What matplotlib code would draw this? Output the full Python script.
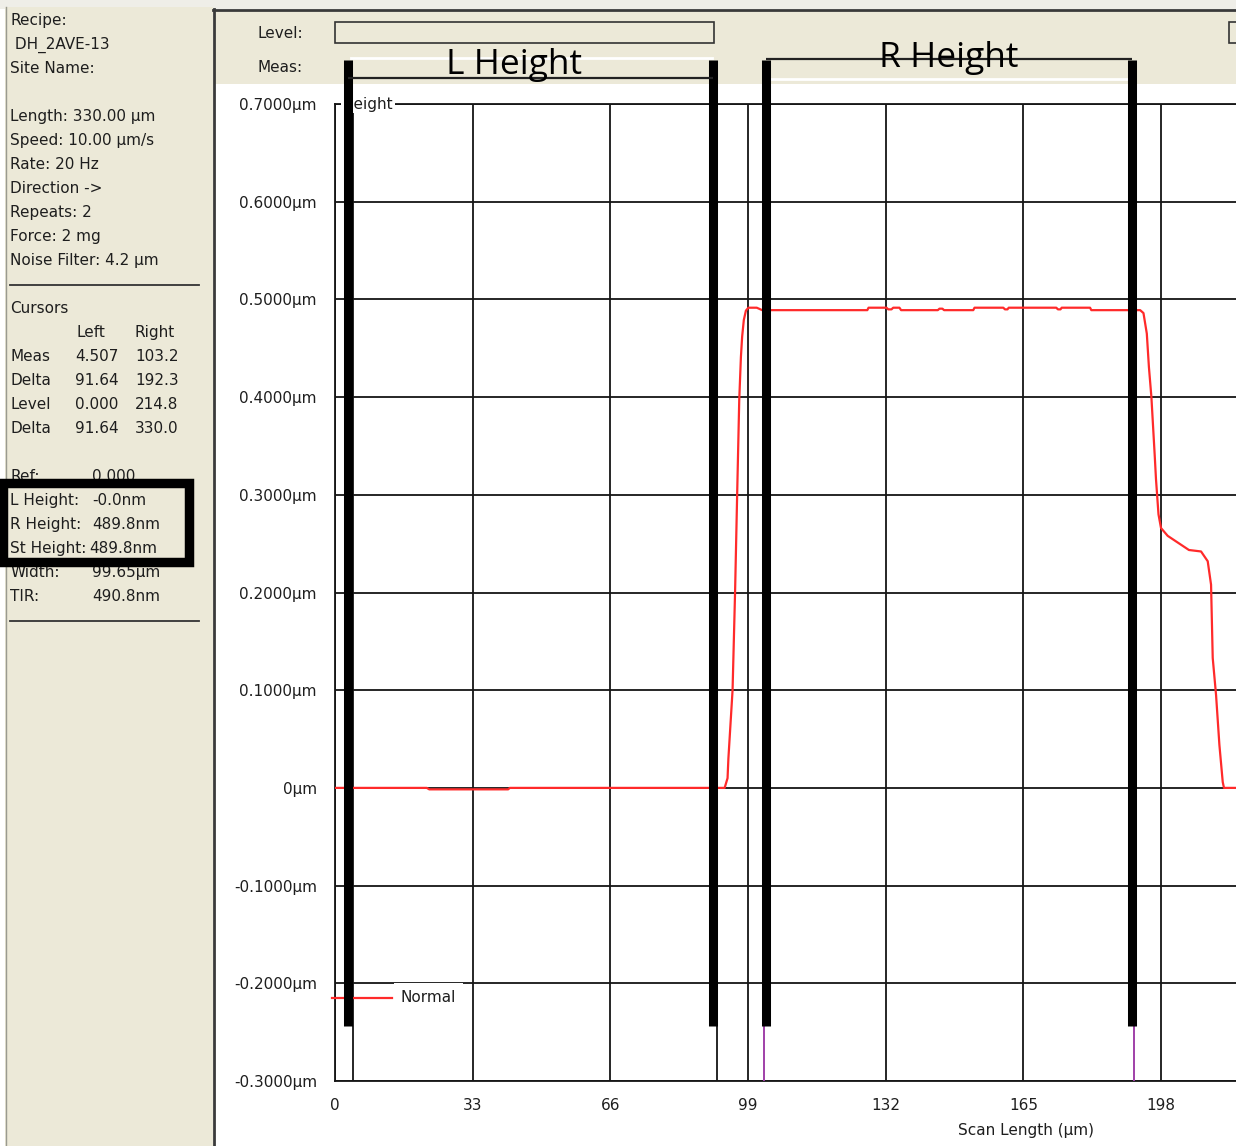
import matplotlib
matplotlib.use("Agg")
import matplotlib.pyplot as plt
from matplotlib.patches import Rectangle
from matplotlib.lines import Line2D

W, H = 1236, 1146
BEIGE = "#ece9d8"
INK = "#1e1e1e"

# step height profile, x in µm, height in µm
scan_x = [0.0, 22.0, 22.6, 41.5, 41.9,
          93.4, 94.1, 94.3, 95.3, 95.9, 96.4, 96.9, 97.3, 97.6, 98.0, 98.5, 99.1,
          101.1, 102.4, 127.6, 127.9, 132.2, 132.6, 133.4, 133.8, 135.3, 135.7,
          144.5, 144.9, 145.6, 146.0, 153.0, 153.3, 160.2, 160.6, 161.2, 161.5,
          172.9, 173.3, 173.9, 174.2, 181.0, 181.3,
          193.0, 193.8, 194.6, 195.1, 195.7, 196.1, 196.5, 196.8, 197.4, 198.0,
          199.6, 204.7, 207.6, 209.2, 210.0, 210.4, 211.2, 212.0, 212.8, 213.1, 215.9]
scan_h = [0.0, 0.0, -0.0015, -0.0015, 0.0,
          0.0, 0.01, 0.03, 0.10, 0.20, 0.30, 0.397, 0.441, 0.462, 0.479, 0.4885, 0.4915,
          0.4915, 0.489, 0.489, 0.4915, 0.4915, 0.4898, 0.4898, 0.4915, 0.4915, 0.489,
          0.489, 0.4905, 0.4905, 0.489, 0.489, 0.4915, 0.4915, 0.4898, 0.4898, 0.4915,
          0.4915, 0.4898, 0.4898, 0.4915, 0.4915, 0.489,
          0.489, 0.486, 0.465, 0.431, 0.400, 0.37, 0.34, 0.316, 0.28, 0.266,
          0.258, 0.2435, 0.242, 0.232, 0.208, 0.133, 0.095, 0.044, 0.006, 0.0, 0.0]

y_ticks = [0.7, 0.6, 0.5, 0.4, 0.3, 0.2, 0.1, 0.0, -0.1, -0.2, -0.3]
y_labels = ["0.7000µm", "0.6000µm", "0.5000µm", "0.4000µm", "0.3000µm",
            "0.2000µm", "0.1000µm", "0µm", "-0.1000µm", "-0.2000µm", "-0.3000µm"]
x_ticks = [0, 33, 66, 99, 132, 165, 198]

cursor_black = [4.2, 91.6]
cursor_purple = [102.8, 191.6]
bar_x = [3.1, 90.6, 103.2, 191.1]

info_top = ["Recipe:", " DH_2AVE-13", "Site Name:", "",
            "Length: 330.00 µm", "Speed: 10.00 µm/s", "Rate: 20 Hz",
            "Direction ->", "Repeats: 2", "Force: 2 mg", "Noise Filter: 4.2 µm"]
cursor_cols = ["Left", "Right"]
cursor_rows = [("Meas", "4.507", "103.2"), ("Delta", "91.64", "192.3"),
               ("Level", "0.000", "214.8"), ("Delta", "91.64", "330.0")]
result_rows = [("Ref:", "0.000"), ("L Height:", "-0.0nm"), ("R Height:", "489.8nm"),
               ("St Height:", "489.8nm"), ("Width:", "99.65µm"), ("TIR:", "490.8nm")]


def fx(px):
    return px / W


def fy(py):
    return 1 - py / H


def frect(x0, y0, x1, y1, **kw):
    return Rectangle((fx(x0), fy(y1)), (x1 - x0) / W, (y1 - y0) / H,
                     transform=fig.transFigure, **kw)


def fline(x0, y0, x1, y1, **kw):
    return Line2D([fx(x0), fx(x1)], [fy(y0), fy(y1)], transform=fig.transFigure, **kw)


plt.rcParams["font.family"] = "DejaVu Sans"
fs = 11

fig = plt.figure(figsize=(W / 100, H / 100), dpi=100, facecolor="white")

# window chrome
fig.patches.append(frect(0, 0, W, 9, facecolor="#efeee8", edgecolor="none", zorder=-2))
fig.patches.append(frect(5, 7, 213, H + 2, facecolor=BEIGE, edgecolor="none", zorder=-2))
fig.patches.append(frect(215, 10, W, 84, facecolor=BEIGE, edgecolor="none", zorder=-2))
fig.lines.append(fline(5.5, 7, 5.5, H, color="#9a9a90", lw=1, zorder=-1))
fig.lines.append(fline(214, 9, 214, H, color="#3a3a3a", lw=2, zorder=-1))
fig.lines.append(fline(213, 9.5, W, 9.5, color="#3a3a3a", lw=2, zorder=-1))
fig.patches.append(frect(335, 22, 714, 43, facecolor=BEIGE, edgecolor="#333333", lw=1.2, zorder=-1))
fig.patches.append(frect(1229, 22, W + 5, 43, facecolor=BEIGE, edgecolor="#333333", lw=1.2, zorder=-1))
fig.lines.append(fline(351, 58, 712, 58, color="white", lw=2, zorder=-1))
fig.lines.append(fline(769, 79, 1128, 79, color="white", lw=2, zorder=-1))
fig.text(fx(303), fy(33), "Level:", ha="right", va="center", fontsize=fs, color=INK)
fig.text(fx(303), fy(68), "Meas:", ha="right", va="center", fontsize=fs, color=INK)

# left info panel
for i, s in enumerate(info_top):
    fig.text(fx(10.5), fy(20.7 + 24 * i), s, ha="left", va="center", fontsize=fs, color=INK)
fig.lines.append(fline(10, 284.5, 199, 284.5, color="#333333", lw=1.3))
fig.text(fx(10.5), fy(308.7), "Cursors", ha="left", va="center", fontsize=fs, color=INK)
fig.text(fx(76), fy(332.7), cursor_cols[0], ha="left", va="center", fontsize=fs, color=INK)
fig.text(fx(135), fy(332.7), cursor_cols[1], ha="left", va="center", fontsize=fs, color=INK)
for i, (name, left, right) in enumerate(cursor_rows):
    yy = fy(356.7 + 24 * i)
    fig.text(fx(10.5), yy, name, ha="left", va="center", fontsize=fs, color=INK)
    fig.text(fx(75), yy, left, ha="left", va="center", fontsize=fs, color=INK)
    fig.text(fx(135), yy, right, ha="left", va="center", fontsize=fs, color=INK)
for i, (name, val) in enumerate(result_rows):
    yy = fy(476.7 + 24 * i)
    fig.text(fx(10.5), yy, name, ha="left", va="center", fontsize=fs, color=INK)
    fig.text(fx(89 if name.startswith("St") else 92), yy, val, ha="left", va="center",
             fontsize=fs, color=INK)
fig.lines.append(fline(10, 620.5, 199, 620.5, color="#333333", lw=1.3))
fig.patches.append(frect(2.5, 483, 189, 561.5, facecolor="none", edgecolor="black",
                         lw=6.8, joinstyle="miter", zorder=5))

# profile plot
ax = fig.add_axes([fx(335), fy(1081), (W - 335) / W, (1081 - 104) / H])
ax.set_xlim(0, (W - 334.5) / 4.174)
ax.set_ylim(-0.3, 0.7)
ax.set_yticks(y_ticks, y_labels)
ax.set_xticks(x_ticks, [str(t) for t in x_ticks])
ax.tick_params(length=0, labelsize=fs, labelcolor=INK)
ax.tick_params(axis="y", pad=13)
ax.tick_params(axis="x", pad=12)
ax.grid(True, color="#151515", lw=1.3)
ax.set_axisbelow(True)
for side in ["left", "top", "bottom"]:
    ax.spines[side].set_color("#151515")
    ax.spines[side].set_linewidth(1.3)
ax.spines["right"].set_visible(False)

ax.text(1.8, 0.7, "Height", ha="left", va="center", fontsize=fs, color=INK, zorder=4,
        bbox=dict(boxstyle="square,pad=0.1", facecolor="white", edgecolor="none"))

ax.vlines(cursor_black, -0.3, 0.7, color="#151515", lw=1.3, zorder=2.6)
ax.vlines(cursor_purple, -0.3, 0.722, color="#a040a8", lw=1.4, zorder=2.6, clip_on=False)

ax.plot(scan_x, scan_h, color="#ff2a2a", lw=1.6, zorder=3)

# legend entry
ax.plot([-0.7, 13.6], [-0.2147, -0.2147], color="#ff2a2a", lw=1.6, clip_on=False, zorder=3)
ax.text(15.8, -0.2147, "Normal", ha="left", va="center", fontsize=fs, color=INK, zorder=4,
        bbox=dict(boxstyle="square,pad=0.45", facecolor="white", edgecolor="none"))

fig.text(fx(1026), fy(1130), "Scan Length (µm)", ha="center", va="center", fontsize=fs, color=INK)

# measurement brackets
ax.vlines(bar_x, -0.2436, 0.745, color="black", lw=6.5, capstyle="butt", zorder=6, clip_on=False)
ax.hlines(0.7266, bar_x[0], bar_x[1], color="#222222", lw=1.6, zorder=6, clip_on=False)
ax.hlines(0.7465, bar_x[2], bar_x[3], color="#222222", lw=1.6, zorder=6, clip_on=False)
ax.text((bar_x[0] + bar_x[1]) / 2 - 3.9, 0.7307, "L Height", ha="center", va="baseline",
        fontsize=25.5, family="Open Sans", weight="medium", color="black", zorder=7)
ax.text((bar_x[2] + bar_x[3]) / 2, 0.7378, "R Height", ha="center", va="baseline",
        fontsize=25.5, family="Open Sans", weight="medium", color="black", zorder=7)

fig.savefig("out.png", dpi=100, facecolor="white")
